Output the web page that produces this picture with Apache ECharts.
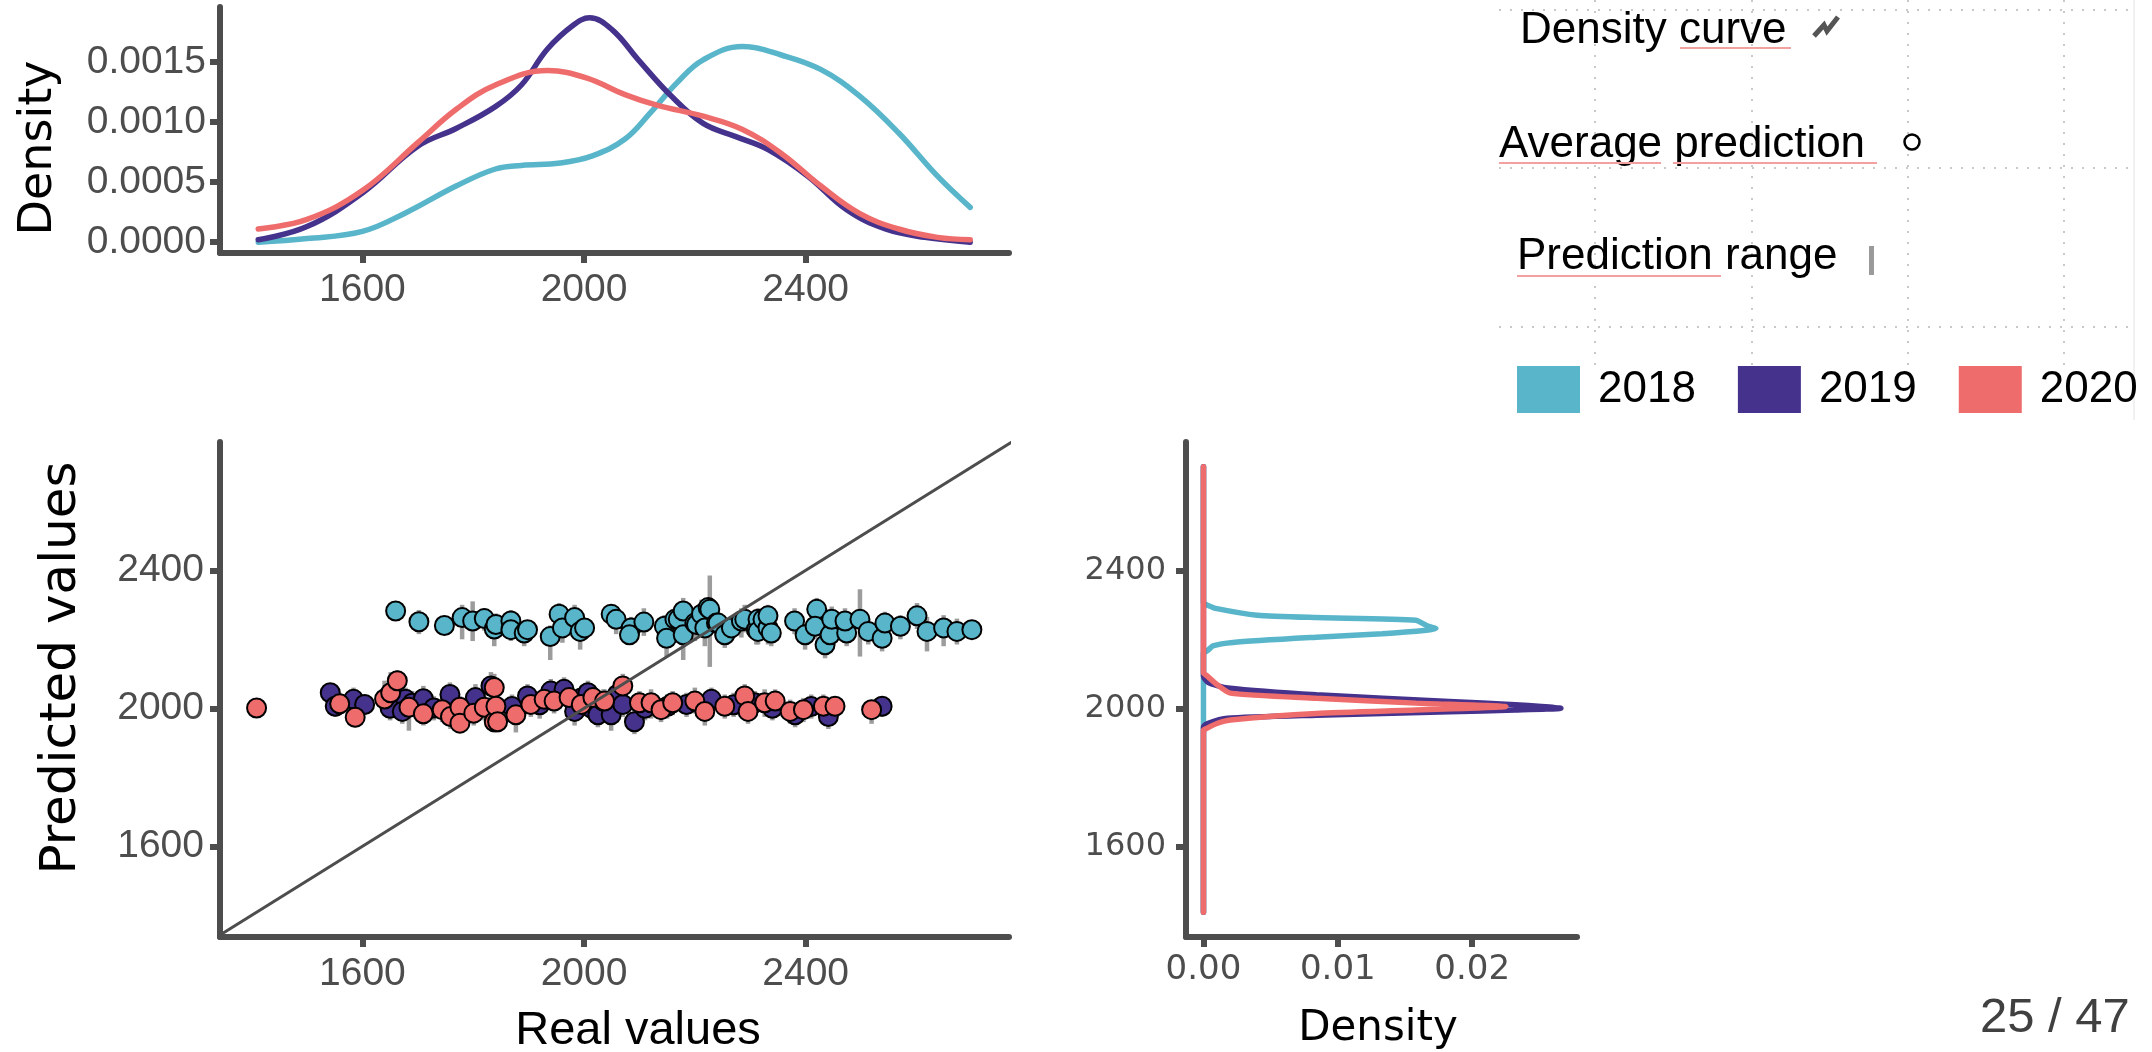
<!DOCTYPE html>
<html>
<head>
<meta charset="utf-8">
<title>Real vs predicted values</title>
<script src="https://cdn.jsdelivr.net/npm/echarts@6/dist/echarts.min.js"></script>
<style>
  html, body { margin: 0; padding: 0; background: #fff; }
  #main { width: 2152px; height: 1052px; }
</style>
</head>
<body>
<div id="main"></div>
<script>
// colours per year
var years = ['2018', '2019', '2020'];
var yearColors = ['#58B5CA', '#45328C', '#EF6C6C'];

// top panel: density of real values, [real value, density]
var dens2018 = [[1412,0],[1500,0.00003],[1600,0.00009],[1676,0.00024],[1770,0.00047],[1840,0.00061],[1887,0.00064],[1957,0.00066],[2015,0.00072],[2074,0.00086],[2120,0.00108],[2168,0.00133],[2215,0.00152],[2286,0.00163],[2356,0.00156],[2427,0.00144],[2497,0.00122],[2568,0.00091],[2638,0.00055],[2697,0.00029]];
var dens2019 = [[1412,0.00002],[1500,0.00013],[1600,0.00041],[1700,0.0008],[1770,0.00095],[1840,0.00113],[1887,0.00131],[1934,0.00161],[1981,0.00181],[2010,0.00187],[2051,0.00177],[2098,0.00152],[2157,0.00122],[2215,0.00099],[2274,0.00088],[2333,0.00077],[2404,0.00055],[2474,0.00027],[2544,0.00011],[2615,0.00004],[2697,0]];
var dens2020 = [[1412,0.00011],[1500,0.00019],[1600,0.00043],[1700,0.00083],[1770,0.00111],[1840,0.00131],[1934,0.00143],[2004,0.00137],[2074,0.00123],[2133,0.00114],[2215,0.00105],[2286,0.00094],[2356,0.00074],[2427,0.00047],[2497,0.00024],[2568,0.00011],[2638,0.00004],[2697,0.00002]];

// scatter: [real value, average prediction, range low, range high]
var pts2018 = [[1660,2282,2262,2300],[1702,2251,2215,2285],[1748,2240,2222,2258],[1780,2263,2200,2300],[1799,2253,2195,2310],[1820,2260,2225,2290],[1838,2230,2180,2262],[1841,2243,2205,2275],[1868,2253,2215,2285],[1868,2228,2195,2255],[1892,2218,2180,2245],[1898,2228,2200,2255],[1939,2208,2140,2240],[1955,2273,2240,2305],[1961,2233,2190,2270],[1983,2263,2225,2300],[1993,2223,2170,2255],[2001,2233,2200,2260],[2049,2273,2240,2300],[2058,2258,2215,2285],[2085,2233,2195,2265],[2082,2213,2185,2240],[2108,2250,2210,2290],[2145,2238,2195,2270],[2149,2203,2150,2235],[2164,2258,2215,2290],[2170,2258,2225,2290],[2179,2282,2245,2320],[2179,2213,2140,2245],[2200,2247,2195,2280],[2203,2243,2210,2275],[2212,2273,2235,2315],[2224,2292,2255,2320],[2227,2287,2120,2385],[2218,2233,2180,2265],[2239,2247,2205,2280],[2242,2247,2210,2280],[2254,2213,2175,2245],[2266,2233,2195,2265],[2284,2253,2205,2290],[2290,2258,2220,2300],[2311,2228,2185,2260],[2314,2258,2220,2290],[2314,2223,2185,2255],[2323,2258,2225,2290],[2332,2233,2185,2265],[2332,2268,2230,2300],[2338,2218,2180,2250],[2380,2253,2215,2290],[2399,2213,2170,2245],[2420,2287,2245,2320],[2417,2238,2200,2270],[2435,2184,2145,2215],[2444,2213,2175,2245],[2447,2258,2215,2295],[2474,2218,2180,2250],[2471,2253,2210,2290],[2498,2258,2150,2345],[2513,2223,2185,2255],[2538,2203,2165,2235],[2543,2247,2210,2280],[2571,2238,2200,2270],[2601,2268,2230,2305],[2619,2223,2165,2265],[2649,2233,2180,2270],[2673,2223,2185,2260],[2700,2228,2205,2250]];
var pts2019 = [[1542,2045,2020,2070],[1551,2006,1975,2035],[1584,2026,1990,2060],[1604,2011,1980,2040],[1650,2000,1965,2035],[1678,2026,1990,2060],[1672,1991,1955,2025],[1690,2015,1980,2050],[1710,2028,1990,2065],[1729,2001,1965,2035],[1758,2040,2005,2075],[1804,2031,1990,2070],[1832,2065,2025,2105],[1870,2005,1965,2040],[1898,2036,2000,2070],[1920,2010,1970,2045],[1940,2050,2015,2085],[1964,2055,2020,2090],[1983,1991,1950,2025],[1995,2030,1995,2065],[2007,2045,2010,2080],[2013,2001,1965,2035],[2025,1981,1945,2015],[2035,2020,1985,2055],[2049,1981,1935,2020],[2060,2040,2005,2075],[2070,2011,1975,2045],[2091,1961,1925,2000],[2110,2000,1965,2035],[2150,2005,1970,2040],[2185,2011,1975,2045],[2230,2026,1990,2060],[2270,2010,1975,2045],[2308,2016,1980,2050],[2340,2000,1965,2035],[2381,1981,1945,2015],[2410,2005,1970,2040],[2441,1976,1940,2010],[2538,2006,1975,2030]];
var pts2020 = [[1409,2001,1985,2020],[1559,2013,1980,2045],[1587,1974,1945,2005],[1640,2027,1990,2080],[1651,2045,2005,2105],[1663,2080,2040,2110],[1684,2003,1935,2035],[1710,1984,1950,2020],[1744,1996,1960,2030],[1759,1976,1940,2010],[1776,2003,1970,2035],[1776,1957,1930,1990],[1801,1986,1950,2020],[1820,2003,1965,2040],[1838,2060,2020,2100],[1838,1961,1930,1995],[1841,2006,1955,2040],[1844,1961,1930,1995],[1877,1981,1930,2015],[1904,2011,1975,2045],[1928,2026,1990,2060],[1946,2021,1985,2055],[1973,2031,1995,2065],[1995,2011,1975,2045],[2016,2031,1995,2065],[2037,2021,1985,2055],[2070,2065,2030,2100],[2100,2016,1975,2050],[2121,2016,1970,2055],[2139,1996,1960,2030],[2160,2016,1980,2050],[2200,2021,1985,2060],[2218,1991,1950,2030],[2254,2006,1970,2040],[2290,2036,2000,2070],[2296,1991,1955,2025],[2326,2016,1975,2055],[2345,2021,1985,2055],[2372,1991,1955,2025],[2396,1996,1960,2030],[2432,2006,1970,2040],[2453,2006,1975,2035],[2519,1996,1955,2025]];

// right panel: density of predictions, [density, predicted value]
var pdens2018 = [[0,1409],[0,2160],[0.0003,2167],[0.0007,2181],[0.0022,2191],[0.0084,2206],[0.0133,2216],[0.0166,2226],[0.0173,2231],[0.0166,2240],[0.0158,2255],[0.0084,2263],[0.004,2270],[0.001,2289],[0.0003,2299],[0,2306],[0,2700]];
var pdens2019 = [[0,1409],[0,1946],[0.0003,1956],[0.0018,1971],[0.0084,1980],[0.0183,1990],[0.0232,1995],[0.0266,2000],[0.0232,2010],[0.0183,2020],[0.0084,2039],[0.0018,2059],[0.0004,2074],[0,2093],[0,2700]];
var pdens2020 = [[0,1409],[0,1936],[0.0002,1941],[0.001,1956],[0.002,1966],[0.0084,1985],[0.0158,1995],[0.0225,2005],[0.0158,2015],[0.0084,2029],[0.002,2044],[0.001,2069],[0.0002,2096],[0,2102],[0,2700]];

// axis ranges and ticks
var realRange = [1343, 2767];
var predRange = [1337, 2772];
var densTopRange = [-0.00009, 0.00196];
var densRightRange = [-0.0013, 0.0278];
var valueTicks = [1600, 2000, 2400];
var densTopTicks = [0, 0.0005, 0.0010, 0.0015];
var densRightTicks = [0, 0.01, 0.02];

var axisGrey = '#4D4D4D';
var chart = echarts.init(document.getElementById('main'));

function axisBase(ticks, fmt, family, size, margin) {
  return {
    type: 'value',
    axisLine: { show: true, onZero: false, lineStyle: { color: axisGrey, width: 6 } },
    axisTick: { show: true, length: 10, customValues: ticks, lineStyle: { color: axisGrey, width: 6 } },
    axisLabel: { customValues: ticks, formatter: fmt, color: axisGrey, fontFamily: family, fontSize: size, margin: margin },
    splitLine: { show: false }
  };
}
function ext(o, extra) { for (var k in extra) o[k] = extra[k]; return o; }

var series = [];
// top densities
[dens2018, dens2019, dens2020].forEach(function (d, i) {
  series.push({ name: years[i], type: 'line', xAxisIndex: 0, yAxisIndex: 0, data: d, smooth: 0.4,
    showSymbol: false, color: yearColors[i], lineStyle: { width: 5.5, color: yearColors[i], cap: 'round' } });
});
// diagonal y = x
series.push({ type: 'line', xAxisIndex: 1, yAxisIndex: 1, silent: true, showSymbol: false, clip: true,
  data: [[predRange[0], predRange[0]], [predRange[1], predRange[1]]],
  lineStyle: { color: axisGrey, width: 3 } });
// prediction ranges
var ranges = [];
[pts2018, pts2019, pts2020].forEach(function (p) { p.forEach(function (r) { ranges.push([r[0], r[2], r[3]]); }); });
series.push({ type: 'custom', xAxisIndex: 1, yAxisIndex: 1, silent: true, data: ranges,
  encode: { x: 0, y: [1, 2] },
  renderItem: function (params, api) {
    var a = api.coord([api.value(0), api.value(1)]);
    var b = api.coord([api.value(0), api.value(2)]);
    return { type: 'line', shape: { x1: a[0], y1: a[1], x2: b[0], y2: b[1] },
      style: { stroke: 'rgba(145,145,145,0.9)', lineWidth: 4.5 } };
  } });
// average predictions
[pts2018, pts2019, pts2020].forEach(function (p, i) {
  series.push({ name: years[i], type: 'scatter', xAxisIndex: 1, yAxisIndex: 1, symbolSize: 19,
    data: p.map(function (r) { return [r[0], r[1]]; }), color: yearColors[i],
    itemStyle: { color: yearColors[i], borderColor: '#000', borderWidth: 2, opacity: 1 } });
});
// right densities
[pdens2018, pdens2019, pdens2020].forEach(function (d, i) {
  series.push({ name: years[i], type: 'line', xAxisIndex: 2, yAxisIndex: 2, data: d, smooth: 0.2,
    showSymbol: false, color: yearColors[i], lineStyle: { width: 5.5, color: yearColors[i], cap: 'round' } });
});

var fmt4 = function (v) { return v.toFixed(4); };
var fmt2 = function (v) { return v.toFixed(2); };
var fmt0 = function (v) { return String(v); };

var option = {
  animation: false,
  backgroundColor: '#fff',
  grid: [
    { left: 220, top: 7, width: 789, height: 246 },
    { left: 220, top: 442, width: 789, height: 495 },
    { left: 1186, top: 442, width: 391, height: 495 }
  ],
  xAxis: [
    ext(axisBase(valueTicks, fmt0, 'Liberation Sans', 39, 18), { gridIndex: 0, min: realRange[0], max: realRange[1] }),
    ext(axisBase(valueTicks, fmt0, 'Liberation Sans', 39, 18), { gridIndex: 1, min: realRange[0], max: realRange[1] }),
    ext(axisBase(densRightTicks, fmt2, 'DejaVu Sans', 34, 16), { gridIndex: 2, min: densRightRange[0], max: densRightRange[1] })
  ],
  yAxis: [
    ext(axisBase(densTopTicks, fmt4, 'Liberation Sans', 39, 14), { gridIndex: 0, min: densTopRange[0], max: densTopRange[1] }),
    ext(axisBase(valueTicks, fmt0, 'Liberation Sans', 39, 16), { gridIndex: 1, min: predRange[0], max: predRange[1] }),
    ext(axisBase(valueTicks, fmt0, 'DejaVu Sans', 32, 20), { gridIndex: 2, min: predRange[0], max: predRange[1] })
  ],
  legend: {
    data: years, left: 1512, top: 361, icon: 'rect', itemWidth: 63, itemHeight: 47, itemGap: 42,
    selectedMode: false, itemStyle: { borderWidth: 0 },
    textStyle: { fontFamily: 'Liberation Sans', fontSize: 44, color: '#000', padding: [0, 0, 0, 13] }
  },
  graphic: [
    // guide dots on the slide
    { type: 'line', silent: true, shape: { x1: 1499, y1: 10, x2: 2130, y2: 10 }, style: { stroke: '#b8b8b8', lineWidth: 1.5, lineDash: [2, 9] } },
    { type: 'line', silent: true, shape: { x1: 1499, y1: 168, x2: 2130, y2: 168 }, style: { stroke: '#b8b8b8', lineWidth: 1.5, lineDash: [2, 9] } },
    { type: 'line', silent: true, shape: { x1: 1499, y1: 327, x2: 2130, y2: 327 }, style: { stroke: '#b8b8b8', lineWidth: 1.5, lineDash: [2, 9] } },
    { type: 'line', silent: true, shape: { x1: 1595, y1: 0, x2: 1595, y2: 365 }, style: { stroke: '#b8b8b8', lineWidth: 1.5, lineDash: [2, 9] } },
    { type: 'line', silent: true, shape: { x1: 1752, y1: 0, x2: 1752, y2: 365 }, style: { stroke: '#b8b8b8', lineWidth: 1.5, lineDash: [2, 9] } },
    { type: 'line', silent: true, shape: { x1: 1908, y1: 0, x2: 1908, y2: 365 }, style: { stroke: '#b8b8b8', lineWidth: 1.5, lineDash: [2, 9] } },
    { type: 'line', silent: true, shape: { x1: 2064, y1: 0, x2: 2064, y2: 365 }, style: { stroke: '#b8b8b8', lineWidth: 1.5, lineDash: [2, 9] } },
    { type: 'line', silent: true, shape: { x1: 2134, y1: 0, x2: 2134, y2: 420 }, style: { stroke: '#ececec', lineWidth: 1.5 } },
    // legend labels
    { type: 'text', x: 1520, y: 31, style: { text: 'Density curve', fontFamily: 'Liberation Sans', fontSize: 44, fill: '#000', verticalAlign: 'middle' } },
    { type: 'text', x: 1499, y: 145, style: { text: 'Average prediction', fontFamily: 'Liberation Sans', fontSize: 44, fill: '#000', verticalAlign: 'middle' } },
    { type: 'text', x: 1517, y: 257, style: { text: 'Prediction range', fontFamily: 'Liberation Sans', fontSize: 44, fill: '#000', verticalAlign: 'middle' } },
    // spell-check squiggles
    { type: 'line', silent: true, shape: { x1: 1680, y1: 48, x2: 1791, y2: 48 }, style: { stroke: '#f3a0a0', lineWidth: 2 } },
    { type: 'line', silent: true, shape: { x1: 1499, y1: 163, x2: 1661, y2: 163 }, style: { stroke: '#f3a0a0', lineWidth: 2 } },
    { type: 'line', silent: true, shape: { x1: 1673, y1: 163, x2: 1877, y2: 163 }, style: { stroke: '#f3a0a0', lineWidth: 2 } },
    { type: 'line', silent: true, shape: { x1: 1517, y1: 276, x2: 1721, y2: 276 }, style: { stroke: '#f3a0a0', lineWidth: 2 } },
    // key glyphs
    { type: 'polyline', silent: true, shape: { points: [[1814, 36], [1824, 25], [1827, 31], [1838, 17]] }, style: { stroke: '#555', lineWidth: 5, fill: null } },
    { type: 'circle', silent: true, shape: { cx: 1912, cy: 142, r: 7.5 }, style: { stroke: '#000', lineWidth: 2.5, fill: '#fff' } },
    { type: 'rect', silent: true, shape: { x: 1869, y: 246, width: 5, height: 29 }, style: { fill: '#9a9a9a' } },
    // axis titles
    { type: 'text', x: 39, y: 148, rotation: Math.PI / 2, style: { text: 'Density', fontFamily: 'DejaVu Sans', fontSize: 46, fill: '#000', align: 'center', verticalAlign: 'middle' } },
    { type: 'text', x: 62, y: 668, rotation: Math.PI / 2, style: { text: 'Predicted values', fontFamily: 'DejaVu Sans', fontSize: 50, fill: '#000', align: 'center', verticalAlign: 'middle' } },
    { type: 'text', x: 638, y: 1031, style: { text: 'Real values', fontFamily: 'Liberation Sans', fontSize: 47, fill: '#000', align: 'center', verticalAlign: 'middle' } },
    { type: 'text', x: 1378, y: 1029, style: { text: 'Density', fontFamily: 'DejaVu Sans', fontSize: 42, fill: '#000', align: 'center', verticalAlign: 'middle' } },
    // slide number
    { type: 'text', x: 1980, y: 1018, style: { text: '25 / 47', fontFamily: 'Liberation Sans', fontSize: 49, fill: '#404040', verticalAlign: 'middle' } }
  ],
  series: series
};
chart.setOption(option);
</script>
</body>
</html>
